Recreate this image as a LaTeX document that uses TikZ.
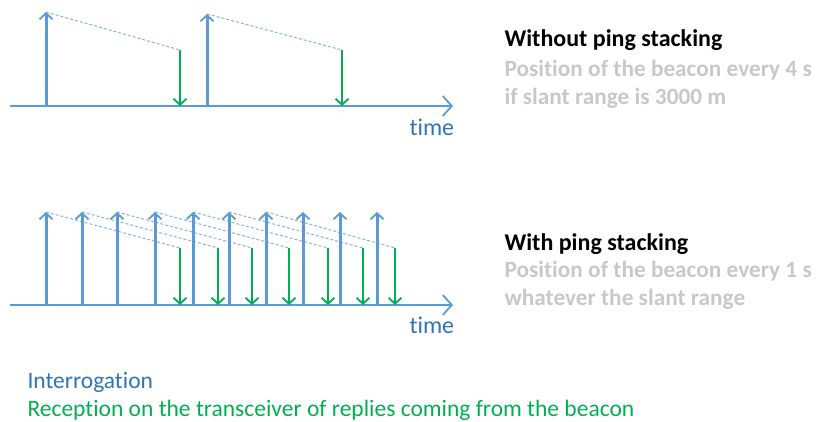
\documentclass[tikz,border=0pt]{standalone}
\usepackage{fontspec}
\setmainfont{Carlito}[Ligatures=CommonOff]
\usetikzlibrary{arrows.meta}
\definecolor{pingblue}{HTML}{5B9BD5}
\definecolor{timeblue}{HTML}{2E75B6}
\definecolor{replygreen}{HTML}{00B050}
\definecolor{notegray}{HTML}{C8C8C8}
\tikzset{
    axis/.style={pingblue,line width=2.8pt,-{Straight Barb[length=9pt,width=20pt,line width=1.8pt]}},
    ping/.style={pingblue,line width=3pt,-{Straight Barb[length=6pt,width=13pt,line width=1.8pt]}},
    reply/.style={replygreen,line width=2.6pt,-{Straight Barb[length=6pt,width=13pt,line width=1.8pt]}},
    travel/.style={pingblue!75,line width=1pt,dash pattern=on 3pt off 2pt},
    timelabel/.style={anchor=base west,timeblue,font=\fontsize{24}{28}\selectfont},
    title/.style={anchor=base west,font=\fontsize{24}{28}\selectfont\bfseries},
    note/.style={anchor=base west,notegray,font=\fontsize{23.3}{27}\selectfont\bfseries},
    legend/.style={anchor=base west,font=\fontsize{23.5}{27}\selectfont}
}
\begin{document}
\begin{tikzpicture}[x=1pt,y=-1pt]
        \useasboundingbox (0,0) rectangle (822,421);
        %% Without ping stacking
        \begin{scope}
            \coordinate (a0) at (10,106);
            \coordinate (a1) at (453,106);
            \draw[axis] (a0) -- (a1);
            \foreach \i/\up/\down/\top in {1/46/180/12,2/207/342/14}{
                \coordinate (p\i) at (\up,106);
                \coordinate (q\i) at (\up,\top);
                \coordinate (r\i) at (\down,50);
                \coordinate (s\i) at (\down,106);
                \draw[travel] (q\i) -- (r\i);
                \draw[ping] (p\i) -- (q\i);
                \draw[reply] (r\i) -- (s\i);
            }
            \node[timelabel] (time1) at (406,135) {time};
            \node[title] (without) at (501,46.5) {Without ping stacking};
            \node[note] (every4) at (501,76.5) {Position of the beacon every 4 s};
            \node[note] (slant) at (501,104) {if slant range is 3000 m};
        \end{scope}
        %% With ping stacking
        \begin{scope}
            \coordinate (b0) at (10,305);
            \coordinate (b1) at (453,305);
            \draw[axis] (b0) -- (b1);
            \foreach \i/\up/\down in {1/46/180,2/82/218,3/117/252,4/155/289,5/193/328,6/229/363,7/266/395}{
                \coordinate (u\i) at (\up,212);
                \coordinate (v\i) at (\down,248);
                \coordinate (w\i) at (\down,305);
                \draw[travel] (u\i) -- (v\i);
            }
            \foreach \i/\up in {1/46,2/82,3/117,4/155,5/193,6/229,7/266,8/303,9/340,10/377}{
                \coordinate (f\i) at (\up,305);
                \coordinate (g\i) at (\up,212);
                \draw[ping] (f\i) -- (g\i);
            }
            \foreach \i in {1,...,7}
                \draw[reply] (v\i) -- (w\i);
            \node[timelabel] (time2) at (406,333) {time};
            \node[title] (with) at (501,250) {With ping stacking};
            \node[note] (every1) at (501,277) {Position of the beacon every 1 s};
            \node[note] (whatever) at (501,305) {whatever the slant range};
        \end{scope}
        %% legend
        \node[legend,timeblue] (interr) at (24,388) {Interrogation};
        \node[legend,replygreen] (recep) at (24,416) {Reception on the transceiver of replies coming from the beacon};
    \end{tikzpicture}
\end{document}
